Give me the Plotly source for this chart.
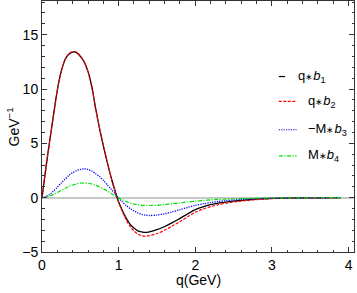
import plotly.graph_objects as go

# ---- data ----
q = [0.0, 0.05, 0.1, 0.15, 0.2, 0.25, 0.3, 0.35, 0.4, 0.45, 0.5, 0.55, 0.6, 0.65,
     0.7, 0.75, 0.8, 0.85, 0.9, 0.95, 1.0, 1.05, 1.1, 1.15, 1.2, 1.25, 1.3, 1.35,
     1.4, 1.5, 1.6, 1.7, 1.8, 1.9, 2.0, 2.1, 2.2, 2.3, 2.4, 2.5, 2.6, 2.7, 2.8,
     2.9, 3.0, 3.2, 3.4, 3.6, 3.9]

qb1 = [0.0, 2.7, 5.2, 7.6, 9.9, 11.6, 12.7, 13.2, 13.4, 13.35, 13.0, 12.5, 11.6, 10.2,
       8.2, 6.4, 4.8, 3.3, 1.9, 0.7, -0.4, -1.2, -1.9, -2.45, -2.8, -3.05, -3.15, -3.2,
       -3.15, -2.95, -2.65, -2.3, -1.9, -1.5, -1.1, -0.85, -0.65, -0.5, -0.4, -0.32, -0.25, -0.19, -0.14,
       -0.1, -0.07, -0.04, -0.02, -0.01, 0.0]

qb2 = [0.0, 2.7, 5.2, 7.6, 9.9, 11.6, 12.7, 13.25, 13.45, 13.4, 13.05, 12.5, 11.6, 10.2,
       8.2, 6.4, 4.8, 3.3, 1.9, 0.65, -0.45, -1.3, -2.05, -2.65, -3.05, -3.35, -3.5, -3.55,
       -3.5, -3.3, -3.0, -2.6, -2.2, -1.75, -1.35, -1.05, -0.82, -0.65, -0.5, -0.4, -0.31, -0.24, -0.18,
       -0.13, -0.09, -0.05, -0.03, -0.015, 0.0]

mb3 = [0.0, 0.1, 0.3, 0.6, 0.95, 1.35, 1.7, 2.05, 2.3, 2.5, 2.6, 2.65, 2.6, 2.45,
       2.2, 1.95, 1.6, 1.2, 0.8, 0.38, -0.05, -0.4, -0.72, -1.0, -1.22, -1.4, -1.53, -1.6,
       -1.64, -1.6, -1.48, -1.3, -1.1, -0.9, -0.72, -0.57, -0.45, -0.35, -0.27, -0.21, -0.16, -0.12, -0.09,
       -0.07, -0.05, -0.03, -0.015, -0.008, 0.0]

mb4 = [0.0, 0.05, 0.15, 0.3, 0.47, 0.66, 0.85, 1.02, 1.16, 1.27, 1.33, 1.35, 1.33, 1.26,
       1.14, 1.0, 0.82, 0.62, 0.4, 0.18, -0.02, -0.2, -0.36, -0.49, -0.59, -0.66, -0.7, -0.72,
       -0.72, -0.7, -0.64, -0.56, -0.48, -0.4, -0.32, -0.26, -0.2, -0.16, -0.13, -0.1, -0.08, -0.06, -0.05,
       -0.04, -0.03, -0.02, -0.012, -0.006, 0.0]

star = "<span style='font-size:9px'>∗</span>"
names = ["q" + star + "<i>b</i><sub>1</sub>", "q" + star + "<i>b</i><sub>2</sub>",
         "−M" + star + "<i>b</i><sub>3</sub>", "M" + star + "<i>b</i><sub>4</sub>"]
series = [qb1, qb2, mb3, mb4]
colors = ["#000000", "#ff0000", "#0000ff", "#00e000"]
dashes = ["solid", "3px,1.5px", "1.2px,1.2px", "4px,1.5px,1.2px,1.5px"]
widths = [1.3, 1.2, 1.3, 1.2]

xticks = [0, 1, 2, 3, 4]
yticks = [-5, 0, 5, 10, 15]

fig = go.Figure()
for ys, nm, c, d, w in zip(series, names, colors, dashes, widths):
    fig.add_trace(go.Scatter(x=q, y=ys, mode="lines", name=nm,
                             line=dict(color=c, dash=d, width=w, shape="spline", smoothing=0.8),
                             showlegend=False))

font = "Liberation Sans, Arial, sans-serif"
axcommon = dict(showline=True, linecolor="#333333", linewidth=1, mirror="allticks",
                ticks="inside", ticklen=5, tickcolor="#333333", showgrid=False,
                tickfont=dict(family=font, size=14, color="#000000"))

fig.update_xaxes(range=[0, 4.07], tickvals=xticks, ticktext=[str(t) for t in xticks],
                 zeroline=False,
                 minor=dict(ticks="inside", ticklen=2.5, dtick=0.2, tick0=0, tickcolor="#333333"),
                 **axcommon)
fig.update_yaxes(range=[-5, 18.1], tickvals=yticks,
                 ticktext=["−5", "0", "5", "10", "15"],
                 zeroline=True, zerolinecolor="#c8c8c8", zerolinewidth=1.8,
                 minor=dict(ticks="inside", ticklen=2.5, dtick=1, tick0=0, tickcolor="#333333"),
                 **axcommon)

# legend drawn manually (Mathematica style)
leg_y = [0.699, 0.600, 0.487, 0.383]
seg = [(0.759, 0.779), (0.759, 0.816), (0.759, 0.816), (0.759, 0.816)]
txt_x = [0.815, 0.846, 0.846, 0.846]
for i in range(4):
    fig.add_shape(type="line", xref="paper", yref="paper",
                  x0=seg[i][0], x1=seg[i][1], y0=leg_y[i], y1=leg_y[i],
                  line=dict(color=colors[i], dash=dashes[i], width=1.2))
    fig.add_annotation(xref="paper", yref="paper", x=txt_x[i], y=leg_y[i],
                       text=names[i], showarrow=False, xanchor="left", yanchor="middle",
                       font=dict(family=font, size=13, color="#000000"))

fig.add_annotation(xref="paper", yref="paper", x=0.5, y=-0.112, text="q(GeV)",
                   showarrow=False, xanchor="center", yanchor="middle",
                   font=dict(family=font, size=14, color="#000000"))
fig.add_annotation(xref="paper", yref="paper", x=-0.093, y=0.5, text="GeV<sup>−1</sup>",
                   showarrow=False, textangle=-90, xanchor="center", yanchor="middle",
                   font=dict(family=font, size=14, color="#000000"))

fig.update_layout(width=357, height=293, margin=dict(l=42, r=3, t=1, b=41),
                  plot_bgcolor="white", paper_bgcolor="white")
fig.write_html("out.html", config={"displayModeBar": False},
               post_script="document.body.style.margin='0';")
